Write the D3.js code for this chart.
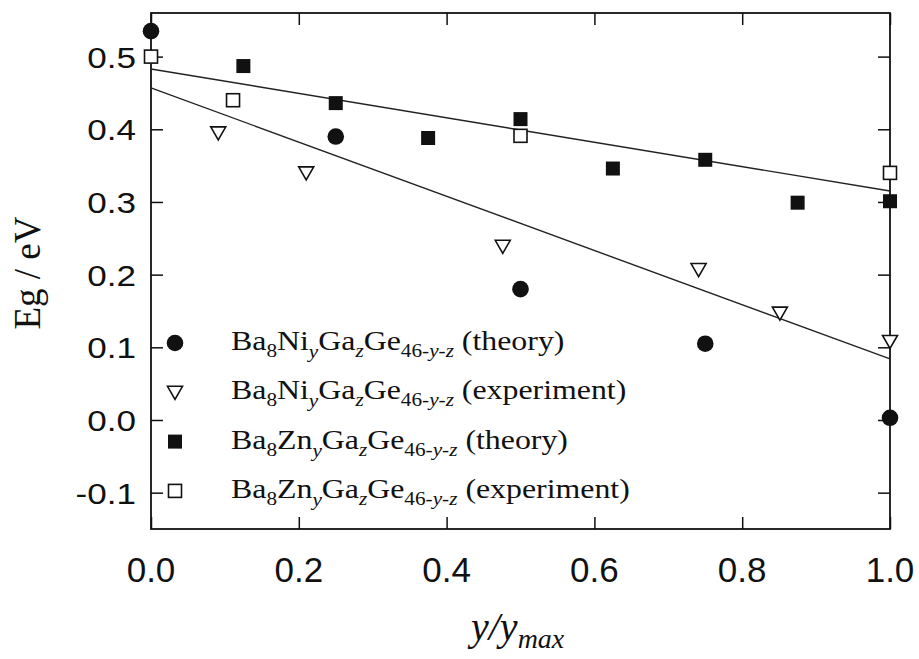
<!DOCTYPE html>
<html>
<head>
<meta charset="utf-8">
<script src="https://cdn.jsdelivr.net/npm/d3@7"></script>
<style>
  body { margin: 0; background: #fff; }
  svg { display: block; }
</style>
</head>
<body>
<svg width="919" height="659"></svg>
<script>
// values
var niTheoryX = [0, 0.25, 0.5, 0.75, 1.0];
var niTheoryY = [0.535, 0.39, 0.18, 0.105, 0.003];
var niExpX = [0.091, 0.21, 0.476, 0.741, 0.851, 1.0];
var niExpY = [0.395, 0.34, 0.239, 0.207, 0.147, 0.108];
var znTheoryX = [0.125, 0.25, 0.375, 0.5, 0.625, 0.75, 0.875, 1.0];
var znTheoryY = [0.487, 0.436, 0.388, 0.414, 0.346, 0.358, 0.299, 0.301];
var znExpX = [0, 0.111, 0.5, 1.0];
var znExpY = [0.5, 0.44, 0.391, 0.34];
// linear fits (value at x = 0 and x = 1)
var niFit = [0.457, 0.084];
var znFit = [0.483, 0.315];

var xTicks = [0, 0.2, 0.4, 0.6, 0.8, 1.0];
var yTicks = [-0.1, 0, 0.1, 0.2, 0.3, 0.4, 0.5];
var legendLabels = [
  { metal: "Ni", note: "(theory)", symbol: "circle" },
  { metal: "Ni", note: "(experiment)", symbol: "triangle" },
  { metal: "Zn", note: "(theory)", symbol: "square" },
  { metal: "Zn", note: "(experiment)", symbol: "openSquare" }
];

var plotL = 151, plotR = 890, plotT = 13, plotB = 529;
var sans = "'Liberation Sans', Arial, sans-serif";
var serif = "'Liberation Serif', 'Times New Roman', serif";
var ink = "#111";

var svg = d3.select("svg");
var x = d3.scaleLinear().domain([0, 1]).range([plotL, plotR]);
var y = d3.scaleLinear().domain([-0.15, 0.56]).range([plotB, plotT]);

// inward ticks on all four sides
svg.append("g").attr("transform", "translate(0," + plotB + ")")
  .call(d3.axisBottom(x).tickValues(xTicks).tickSize(-12).tickFormat(""));
svg.append("g").attr("transform", "translate(0," + plotT + ")")
  .call(d3.axisTop(x).tickValues(xTicks).tickSize(-12).tickFormat(""));
svg.append("g").attr("transform", "translate(" + plotL + ",0)")
  .call(d3.axisLeft(y).tickValues(yTicks).tickSize(-12).tickFormat(""));
svg.append("g").attr("transform", "translate(" + plotR + ",0)")
  .call(d3.axisRight(y).tickValues(yTicks).tickSize(-12).tickFormat(""));
svg.selectAll(".domain").remove();
svg.selectAll(".tick line").attr("stroke", ink).attr("stroke-width", 1.5);

svg.append("rect")
  .attr("x", plotL).attr("y", plotT)
  .attr("width", plotR - plotL).attr("height", plotB - plotT)
  .attr("fill", "none").attr("stroke", ink).attr("stroke-width", 1.8);

// tick labels
svg.selectAll(".xlab").data(xTicks).enter().append("text")
  .attr("class", "xlab")
  .attr("x", function(d) { return x(d); })
  .attr("y", 582)
  .attr("text-anchor", "middle")
  .attr("font-family", sans).attr("font-size", 35).attr("fill", ink)
  .text(function(d) { return d3.format(".1f")(d); });

svg.selectAll(".ylab").data(yTicks).enter().append("text")
  .attr("class", "ylab")
  .attr("transform", function(d) { return "translate(136," + (y(d) + 11) + ") scale(1.17,1)"; })
  .attr("text-anchor", "end")
  .attr("font-family", sans).attr("font-size", 30).attr("fill", ink)
  .text(function(d) { return d3.format(".1f")(d).replace("\u2212", "-"); });

// axis titles
svg.append("text")
  .attr("transform", "translate(40,273) rotate(-90)")
  .attr("text-anchor", "middle")
  .attr("font-family", serif).attr("font-size", 37).attr("fill", ink)
  .text("Eg / eV");

var xt = svg.append("text")
  .attr("x", 471).attr("y", 640)
  .attr("font-family", serif).attr("font-style", "italic")
  .attr("font-size", 40).attr("fill", ink);
xt.append("tspan").text("y/y");
xt.append("tspan").attr("dy", 8).attr("font-size", 28).text("max");

// fit lines
[niFit, znFit].forEach(function(f) {
  svg.append("line")
    .attr("x1", x(0)).attr("y1", y(f[0]))
    .attr("x2", x(1)).attr("y2", y(f[1]))
    .attr("stroke", "#222").attr("stroke-width", 1.4);
});

// markers
function drawSymbol(g, kind) {
  if (kind === "circle") {
    g.append("circle").attr("r", 8.3).attr("fill", ink);
  } else if (kind === "triangle") {
    g.append("path").attr("d", "M-7.5,-6 L7.5,-6 L0,7 Z")
      .attr("fill", "#fff").attr("stroke", ink).attr("stroke-width", 1.6);
  } else if (kind === "square") {
    g.append("rect").attr("x", -7).attr("y", -7).attr("width", 14).attr("height", 14)
      .attr("fill", ink);
  } else {
    g.append("rect").attr("x", -6.5).attr("y", -6.5).attr("width", 13).attr("height", 13)
      .attr("fill", "#fff").attr("stroke", ink).attr("stroke-width", 1.6);
  }
}

var series = [
  { xs: niTheoryX, ys: niTheoryY, symbol: "circle" },
  { xs: niExpX, ys: niExpY, symbol: "triangle" },
  { xs: znTheoryX, ys: znTheoryY, symbol: "square" },
  { xs: znExpX, ys: znExpY, symbol: "openSquare" }
];
series.forEach(function(s) {
  svg.selectAll(null).data(s.xs).enter().append("g")
    .attr("transform", function(d, i) { return "translate(" + x(d) + "," + y(s.ys[i]) + ")"; })
    .each(function() { drawSymbol(d3.select(this), s.symbol); });
});

// legend
var leg = svg.append("g");
legendLabels.forEach(function(l, i) {
  var base = 350 + i * 49.3;
  drawSymbol(leg.append("g").attr("transform", "translate(175," + (base - 7) + ")"), l.symbol);
  var t = leg.append("text")
    .attr("transform", "translate(231," + base + ") scale(1.18,1)")
    .attr("font-family", serif).attr("font-size", 27).attr("fill", ink);
  t.append("tspan").text("Ba");
  t.append("tspan").attr("font-size", 18).attr("dy", 7).text("8");
  t.append("tspan").attr("dy", -7).text(l.metal);
  t.append("tspan").attr("font-size", 18).attr("dy", 8).attr("font-style", "italic").text("y");
  t.append("tspan").attr("dy", -8).text("Ga");
  t.append("tspan").attr("font-size", 18).attr("dy", 7).attr("font-style", "italic").text("z");
  t.append("tspan").attr("dy", -7).text("Ge");
  var sub = t.append("tspan").attr("font-size", 18).attr("dy", 7);
  sub.append("tspan").text("46-");
  sub.append("tspan").attr("font-style", "italic").text("y");
  sub.append("tspan").text("-");
  sub.append("tspan").attr("font-style", "italic").text("z");
  t.append("tspan").attr("dy", -7).text(" " + l.note);
});
</script>
</body>
</html>
